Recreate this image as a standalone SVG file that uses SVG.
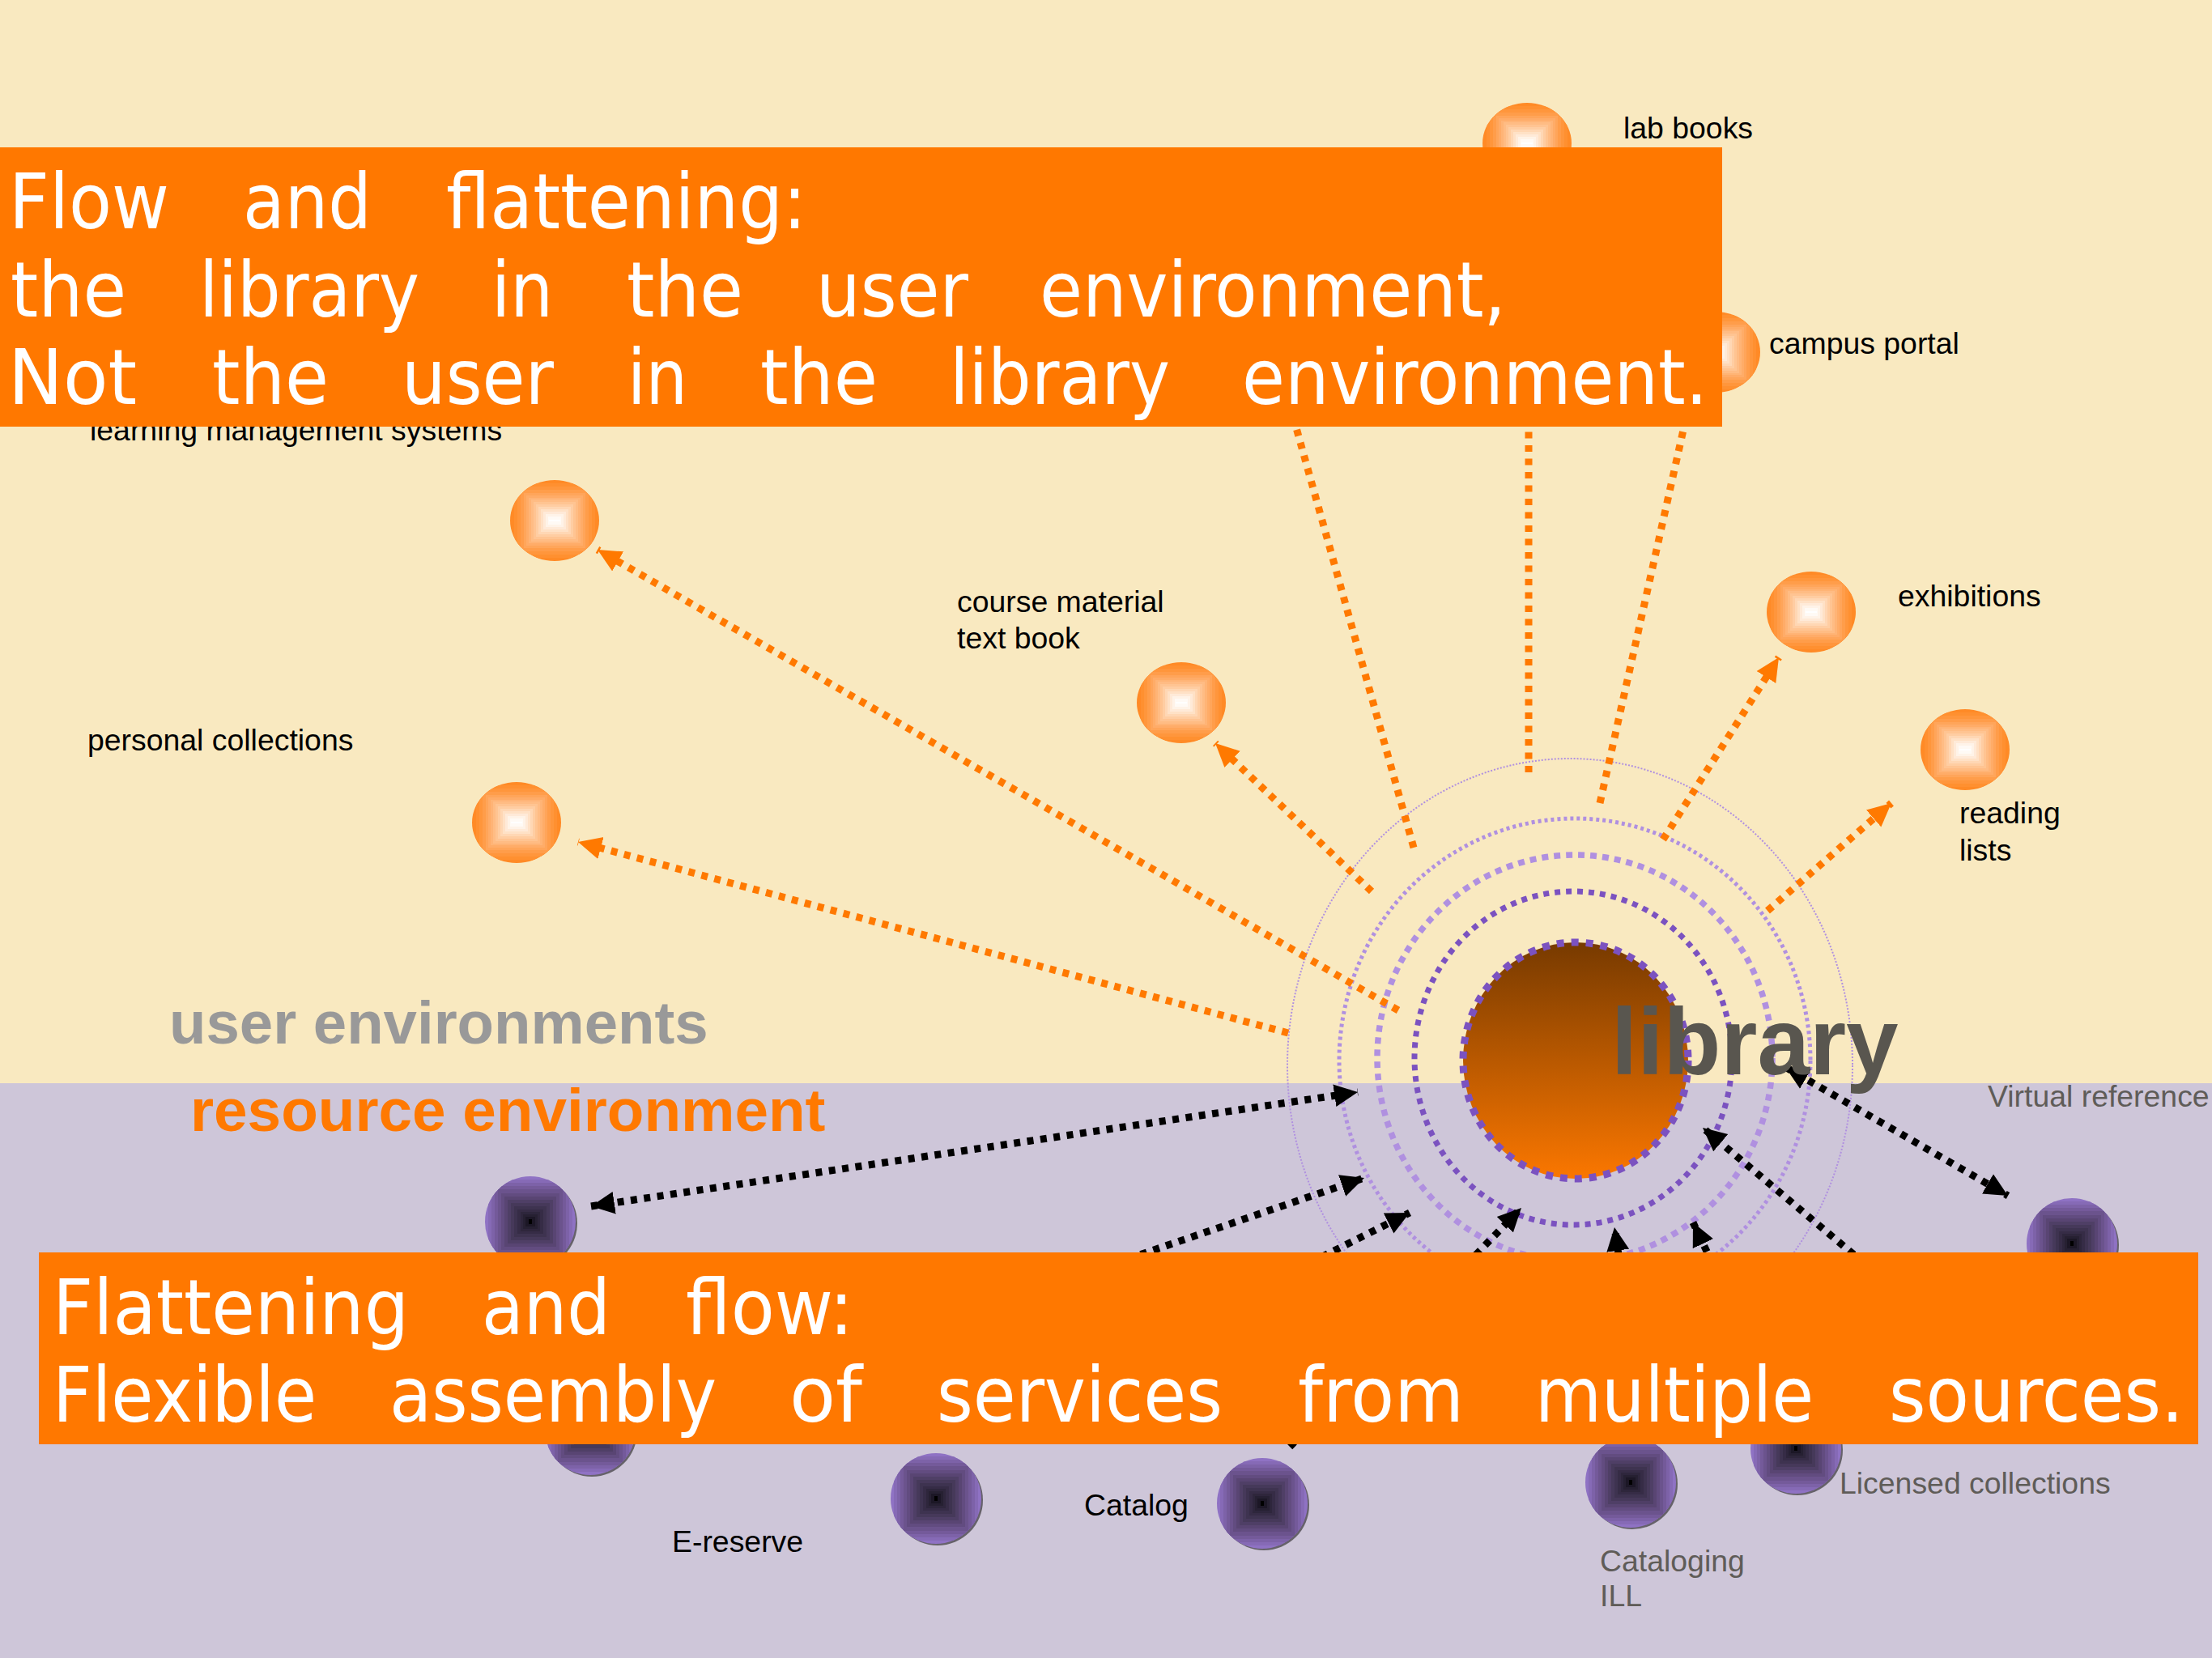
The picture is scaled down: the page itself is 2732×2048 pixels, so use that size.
<svg xmlns="http://www.w3.org/2000/svg" width="2732" height="2048" viewBox="0 0 2732 2048">
<style>
text{font-family:"Liberation Sans",Arial,sans-serif}
.lbl{font-size:37.4px;fill:#000}
.lbg{font-size:37.4px;fill:#5f5c58}
.big{font-size:74.7px;font-weight:bold}
.ban{font-family:"DejaVu Sans",Verdana,sans-serif;font-size:95px;fill:#fff}
.o,.k{fill:none;stroke-width:9;stroke-dasharray:8 8.5}
.o{stroke:#ff7900;marker-end:url(#ho)}
.k{stroke:#000;marker-end:url(#hk)}
.d{marker-start:url(#hk2)}
.n{marker-end:none}
.r{fill:none}
</style>
<defs>
<linearGradient id="lib" x1="0" y1="0" x2="0" y2="1"><stop offset="0" stop-color="#773a00"/><stop offset="1" stop-color="#fb7700"/></linearGradient>
<marker id="ho" markerUnits="userSpaceOnUse" markerWidth="29" markerHeight="30" refX="29" refY="15" orient="auto"><path d="M0,1L29,15L0,29z" fill="#ff7900"/></marker>
<marker id="hk" markerUnits="userSpaceOnUse" markerWidth="29" markerHeight="30" refX="29" refY="15" orient="auto"><path d="M0,1L29,15L0,29z" fill="#000"/></marker>
<marker id="hk2" markerUnits="userSpaceOnUse" markerWidth="29" markerHeight="30" refX="29" refY="15" orient="auto-start-reverse"><path d="M0,1L29,15L0,29z" fill="#000"/></marker>
<clipPath id="co"><ellipse cx="0" cy="0" rx="55" ry="50"/></clipPath>
<clipPath id="cp"><ellipse cx="0" cy="0" rx="56" ry="56"/></clipPath>
<g id="ob" clip-path="url(#co)">
<rect x="-55" y="-50" width="110" height="100" fill="#ff8a26"/>
<rect x="-50" y="-46" width="100" height="92" fill="#ff9030"/>
<rect x="-46" y="-42" width="92" height="84" fill="#ff963c"/>
<rect x="-42" y="-38" width="84" height="76" fill="#ff9d4a"/>
<rect x="-38" y="-34" width="76" height="68" fill="#ffa55a"/>
<rect x="-35" y="-31" width="70" height="62" fill="#ffac68"/>
<rect x="-32" y="-28" width="64" height="56" fill="#ffb476"/>
<rect x="-29" y="-26" width="58" height="52" fill="#ffbc84"/>
<rect x="-26" y="-23" width="52" height="46" fill="#ffc492"/>
<rect x="-23" y="-20" width="46" height="40" fill="#ffcda2"/>
<rect x="-20" y="-17" width="40" height="34" fill="#ffd7b4"/>
<rect x="-17" y="-14" width="34" height="28" fill="#ffe1c6"/>
<rect x="-14" y="-11" width="28" height="22" fill="#ffead8"/>
<rect x="-11" y="-8" width="22" height="16" fill="#fff3e8"/>
<rect x="-8" y="-5" width="16" height="10" fill="#fffaf5"/>
<rect x="-7" y="-1" width="14" height="2" fill="#fff"/>
</g>
<g id="pb">
<ellipse cx="2" cy="2" rx="56" ry="56" fill="#66626a"/>
<g clip-path="url(#cp)">
<rect x="-56" y="-56" width="112" height="112" fill="#8f72c4"/>
<rect x="-52" y="-52" width="104" height="104" fill="#866ab6"/>
<rect x="-48" y="-48" width="96" height="96" fill="#7d62a8"/>
<rect x="-44" y="-44" width="88" height="88" fill="#745a9a"/>
<rect x="-40" y="-40" width="80" height="80" fill="#6b538d"/>
<rect x="-36" y="-35" width="72" height="70" fill="#624c80"/>
<rect x="-32" y="-31" width="64" height="62" fill="#594573"/>
<rect x="-28" y="-27" width="56" height="54" fill="#4f3f66"/>
<rect x="-24" y="-23" width="48" height="46" fill="#46395a"/>
<rect x="-20" y="-19" width="40" height="38" fill="#3e3350"/>
<rect x="-16" y="-15" width="32" height="30" fill="#362c46"/>
<rect x="-12" y="-12" width="24" height="24" fill="#2e263c"/>
<rect x="-9" y="-9" width="18" height="18" fill="#262032"/>
<rect x="-6" y="-6" width="12" height="12" fill="#1c1726"/>
<rect x="-2" y="-3" width="4" height="6" fill="#000"/>
</g>
</g>
</defs>
<g id="background">
<rect x="0" y="0" width="2732" height="1338" fill="#f9e9c0"/>
<rect x="0" y="1338" width="2732" height="710" fill="#cec6d9"/>
</g>
<g id="rings">
<ellipse class="r" cx="1939" cy="1316" rx="349" ry="379" stroke="#b090e0" stroke-width="2" stroke-dasharray="2 2"/>
<ellipse class="r" cx="1945" cy="1310" rx="291" ry="299" stroke="#b090e0" stroke-width="5" stroke-dasharray="4 4"/>
<ellipse class="r" cx="1945" cy="1307" rx="244" ry="251" stroke="#b090e0" stroke-width="7.5" stroke-dasharray="8 7"/>
<ellipse class="r" cx="1943" cy="1307" rx="196" ry="206" stroke="#7b52c0" stroke-width="7" stroke-dasharray="7 7"/>
</g>
<g id="connectors">
<line class="o" x1="1591" y1="1276" x2="714" y2="1040"/>
<line class="o" x1="1727" y1="1248" x2="738" y2="679"/>
<line class="o" x1="1694" y1="1101" x2="1501" y2="918"/>
<line class="o n" x1="1746" y1="1047" x2="1593" y2="500"/>
<line class="o n" x1="1888" y1="954" x2="1888" y2="500"/>
<line class="o n" x1="1976" y1="992" x2="2086" y2="500"/>
<line class="o" x1="2054" y1="1037" x2="2197" y2="812"/>
<line class="o" x1="2183" y1="1125" x2="2336" y2="992"/>
<line class="k d" x1="730" y1="1490" x2="1677" y2="1349"/>
<line class="k" x1="800" y1="1758" x2="1685" y2="1455"/>
<line class="k" x1="1220" y1="1760" x2="1741" y2="1498"/>
<line class="k d" x1="1593" y1="1787" x2="1879" y2="1492"/>
<line class="k" x1="2030" y1="1760" x2="1994" y2="1516"/>
<line class="k" x1="2200" y1="1740" x2="2091" y2="1510"/>
<line class="k" x1="2340" y1="1592" x2="2103" y2="1393"/>
<line class="k d" x1="2205" y1="1318" x2="2480" y2="1477"/>
</g>
<g id="node-lab-books"><use href="#ob" transform="translate(1886 177)"/><text class="lbl" x="2005" y="171">lab books</text></g>
<g id="node-campus-portal"><use href="#ob" transform="translate(2119 435)"/><text class="lbl" x="2185" y="437">campus portal</text></g>
<g id="node-lms"><use href="#ob" transform="translate(685 643)"/><text class="lbl" x="111" y="544">learning management systems</text></g>
<g id="node-course-material"><use href="#ob" transform="translate(1459 868)"/><text class="lbl" x="1182" y="756">course material</text><text class="lbl" x="1182" y="801">text book</text></g>
<g id="node-personal-collections"><use href="#ob" transform="translate(638 1016)"/><text class="lbl" x="108" y="927">personal collections</text></g>
<g id="node-exhibitions"><use href="#ob" transform="translate(2237 756)"/><text class="lbl" x="2344" y="749">exhibitions</text></g>
<g id="node-reading-lists"><use href="#ob" transform="translate(2427 926)"/><text class="lbl" x="2420" y="1017">reading</text><text class="lbl" x="2420" y="1063">lists</text></g>
<g id="node-a"><use href="#pb" transform="translate(655 1509)"/></g>
<g id="node-b"><use href="#pb" transform="translate(729 1766)"/></g>
<g id="node-e-reserve"><use href="#pb" transform="translate(1156 1851)"/><text class="lbl" x="830" y="1917">E-reserve</text></g>
<g id="node-catalog"><use href="#pb" transform="translate(1559 1857)"/><text class="lbl" x="1339" y="1872">Catalog</text></g>
<g id="node-cataloging-ill"><use href="#pb" transform="translate(2014 1831)"/><text class="lbg" x="1976" y="1941">Cataloging</text><text class="lbg" x="1976" y="1984">ILL</text></g>
<g id="node-licensed-collections"><use href="#pb" transform="translate(2218 1789)"/><text class="lbg" x="2272" y="1845">Licensed collections</text></g>
<g id="node-virtual-reference"><use href="#pb" transform="translate(2559 1536)"/><text class="lbg" x="2455" y="1367">Virtual reference</text></g>
<g id="node-library">
<ellipse cx="1946" cy="1310" rx="139" ry="146" fill="url(#lib)"/>
<ellipse class="r" cx="1946" cy="1310" rx="139" ry="146" stroke="#7b52c0" stroke-width="9" stroke-dasharray="9 9"/>
<text x="1990" y="1327" font-size="116" font-weight="bold" fill="#59564f">library</text>
</g>
<text class="big" x="209" y="1289" fill="#999" style="font-size:74.4px">user environments</text>
<text class="big" x="235" y="1397" fill="#ff7900">resource environment</text>
<g id="banner-top">
<rect x="0" y="182" width="2127" height="345" fill="#ff7800"/>
<text class="ban" y="282"><tspan x="11" textLength="198" lengthAdjust="spacingAndGlyphs">Flow</tspan> <tspan x="300" textLength="159" lengthAdjust="spacingAndGlyphs">and</tspan> <tspan x="551" textLength="445" lengthAdjust="spacingAndGlyphs">flattening:</tspan></text>
<text class="ban" y="391"><tspan x="13" textLength="143" lengthAdjust="spacingAndGlyphs">the</tspan> <tspan x="246" textLength="272" lengthAdjust="spacingAndGlyphs">library</tspan> <tspan x="607" textLength="76" lengthAdjust="spacingAndGlyphs">in</tspan> <tspan x="774" textLength="144" lengthAdjust="spacingAndGlyphs">the</tspan> <tspan x="1008" textLength="188" lengthAdjust="spacingAndGlyphs">user</tspan> <tspan x="1284" textLength="576" lengthAdjust="spacingAndGlyphs">environment,</tspan></text>
<text class="ban" y="499"><tspan x="10" textLength="159" lengthAdjust="spacingAndGlyphs">Not</tspan> <tspan x="262" textLength="144" lengthAdjust="spacingAndGlyphs">the</tspan> <tspan x="496" textLength="188" lengthAdjust="spacingAndGlyphs">user</tspan> <tspan x="775" textLength="74" lengthAdjust="spacingAndGlyphs">in</tspan> <tspan x="939" textLength="145" lengthAdjust="spacingAndGlyphs">the</tspan> <tspan x="1173" textLength="272" lengthAdjust="spacingAndGlyphs">library</tspan> <tspan x="1534" textLength="575" lengthAdjust="spacingAndGlyphs">environment.</tspan></text>
</g>
<g id="banner-bottom">
<rect x="48" y="1547" width="2667" height="237" fill="#ff7800"/>
<text class="ban" y="1648"><tspan x="65" textLength="440" lengthAdjust="spacingAndGlyphs">Flattening</tspan> <tspan x="595" textLength="159" lengthAdjust="spacingAndGlyphs">and</tspan> <tspan x="847" textLength="207" lengthAdjust="spacingAndGlyphs">flow:</tspan></text>
<text class="ban" y="1756"><tspan x="65" textLength="326" lengthAdjust="spacingAndGlyphs">Flexible</tspan> <tspan x="481" textLength="404" lengthAdjust="spacingAndGlyphs">assembly</tspan> <tspan x="975" textLength="90" lengthAdjust="spacingAndGlyphs">of</tspan> <tspan x="1157" textLength="353" lengthAdjust="spacingAndGlyphs">services</tspan> <tspan x="1603" textLength="205" lengthAdjust="spacingAndGlyphs">from</tspan> <tspan x="1896" textLength="344" lengthAdjust="spacingAndGlyphs">multiple</tspan> <tspan x="2333" textLength="364" lengthAdjust="spacingAndGlyphs">sources.</tspan></text>
</g>
</svg>
